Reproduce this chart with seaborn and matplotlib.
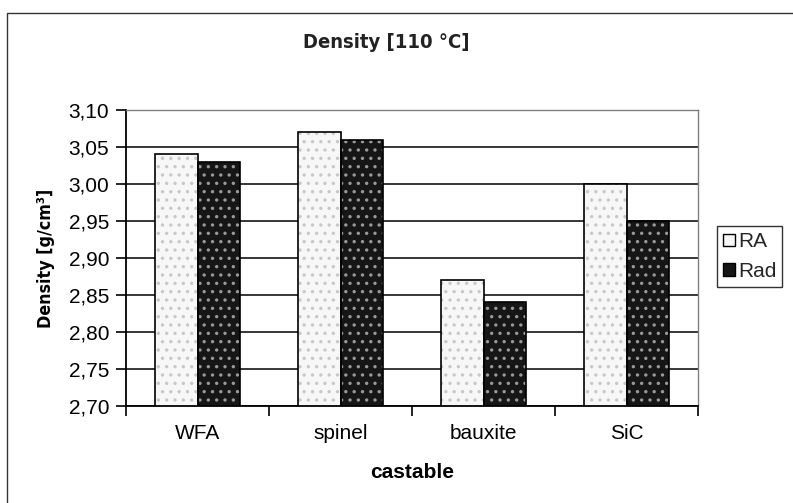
import matplotlib
matplotlib.use("Agg")
import matplotlib.pyplot as plt
from matplotlib.patches import Rectangle, Patch
from matplotlib.ticker import FuncFormatter, FixedLocator
import pandas as pd
import seaborn as sns

# Data
castables = ["WFA", "spinel", "bauxite", "SiC"]
density_ra = [3.04, 3.07, 2.87, 3.00]
density_rad = [3.03, 3.06, 2.84, 2.95]
series_names = ["RA", "Rad"]
y_ticks = [2.70, 2.75, 2.80, 2.85, 2.90, 2.95, 3.00, 3.05, 3.10]

df = pd.DataFrame({
    "castable": castables * 2,
    "density": density_ra + density_rad,
    "series": [series_names[0]] * len(castables) + [series_names[1]] * len(castables),
})

sns.set_theme(style="white")
plt.rcParams["font.family"] = ["Liberation Sans", "DejaVu Sans"]
plt.rcParams["hatch.linewidth"] = 1.2

fill_colors = {"RA": "#f7f7f7", "Rad": "#161616"}
dot_colors = {"RA": "#c8c8c8", "Rad": "#9a9a9a"}

fig = plt.figure(figsize=(7.93, 5.03), dpi=100)
ax = fig.add_axes([126 / 793, 1 - 406 / 503, (698 - 126) / 793, (406 - 110) / 503])

sns.barplot(data=df, x="castable", y="density", hue="series", order=castables,
            hue_order=series_names, palette=fill_colors, width=0.59,
            ax=ax, legend=False, saturation=1, errorbar=None, zorder=2)

# Dotted fills plus crisp black outlines on each bar
for name, container in zip(series_names, ax.containers):
    for bar in container:
        bar.set_hatch("..")
        bar.set_edgecolor(dot_colors[name])
        bar.set_linewidth(0)
        outline = Rectangle(bar.get_xy(), bar.get_width(), bar.get_height(),
                            fill=False, edgecolor="black", linewidth=1.2, zorder=3)
        ax.add_patch(outline)

ax.set_ylim(2.70, 3.10)
ax.set_xlim(-0.5, len(castables) - 0.5)
ax.yaxis.set_major_locator(FixedLocator(y_ticks))
ax.yaxis.set_major_formatter(FuncFormatter(lambda v, p: f"{v:.2f}".replace(".", ",")))
ax.grid(axis="y", color="black", linewidth=1.1, zorder=0)
ax.set_axisbelow(True)

# Category ticks sit on the boundaries between groups
ax.set_xticks([i - 0.5 for i in range(len(castables) + 1)], minor=True)
ax.tick_params(axis="x", which="minor", length=7, width=1.2, direction="out", color="black", bottom=True)
ax.tick_params(axis="x", which="major", length=0, labelsize=15, pad=13, colors="black")
ax.tick_params(axis="y", which="major", length=7, width=1.2, direction="out", color="black",
               labelsize=15, pad=5, left=True, labelcolor="black")

for side in ["left", "bottom"]:
    ax.spines[side].set_color("black")
    ax.spines[side].set_linewidth(1.3)
for side in ["top", "right"]:
    ax.spines[side].set_color("#808080")
    ax.spines[side].set_linewidth(1.0)
    ax.spines[side].set_visible(True)

ax.set_xlabel("castable", fontsize=15, fontweight="bold", labelpad=14, color="black")
ax.set_ylabel("Density [g/cm³]", fontsize=12.8, fontweight="bold", labelpad=10,
              fontstretch="condensed", family=["DejaVu Sans"], color="black")
fig.text(386 / 793, 1 - 42 / 503, "Density [110 °C]", ha="center", va="center",
         fontsize=14.5, fontweight="bold", fontstretch="condensed",
         family=["DejaVu Sans"], color="#222222")

handles = [Patch(facecolor=fill_colors[n], edgecolor="black", linewidth=1.0)
           for n in series_names]
leg = fig.legend(handles, series_names, loc="upper left",
                 bbox_to_anchor=(717 / 793, 1 - 226 / 503), frameon=True,
                 fontsize=15, handlelength=0.55, handleheight=0.55, handletextpad=0.15,
                 borderpad=0.3, labelspacing=0.5, fancybox=False, borderaxespad=0)
leg.get_frame().set_edgecolor("black")
leg.get_frame().set_linewidth(1.0)

# Outer chart-area frame
fig.add_artist(Rectangle((7 / 793, -0.2), 2.0, (503 - 13) / 503 + 0.2,
                         transform=fig.transFigure, fill=False,
                         edgecolor="#333333", linewidth=1.0))

fig.savefig("out.png", dpi=100)
